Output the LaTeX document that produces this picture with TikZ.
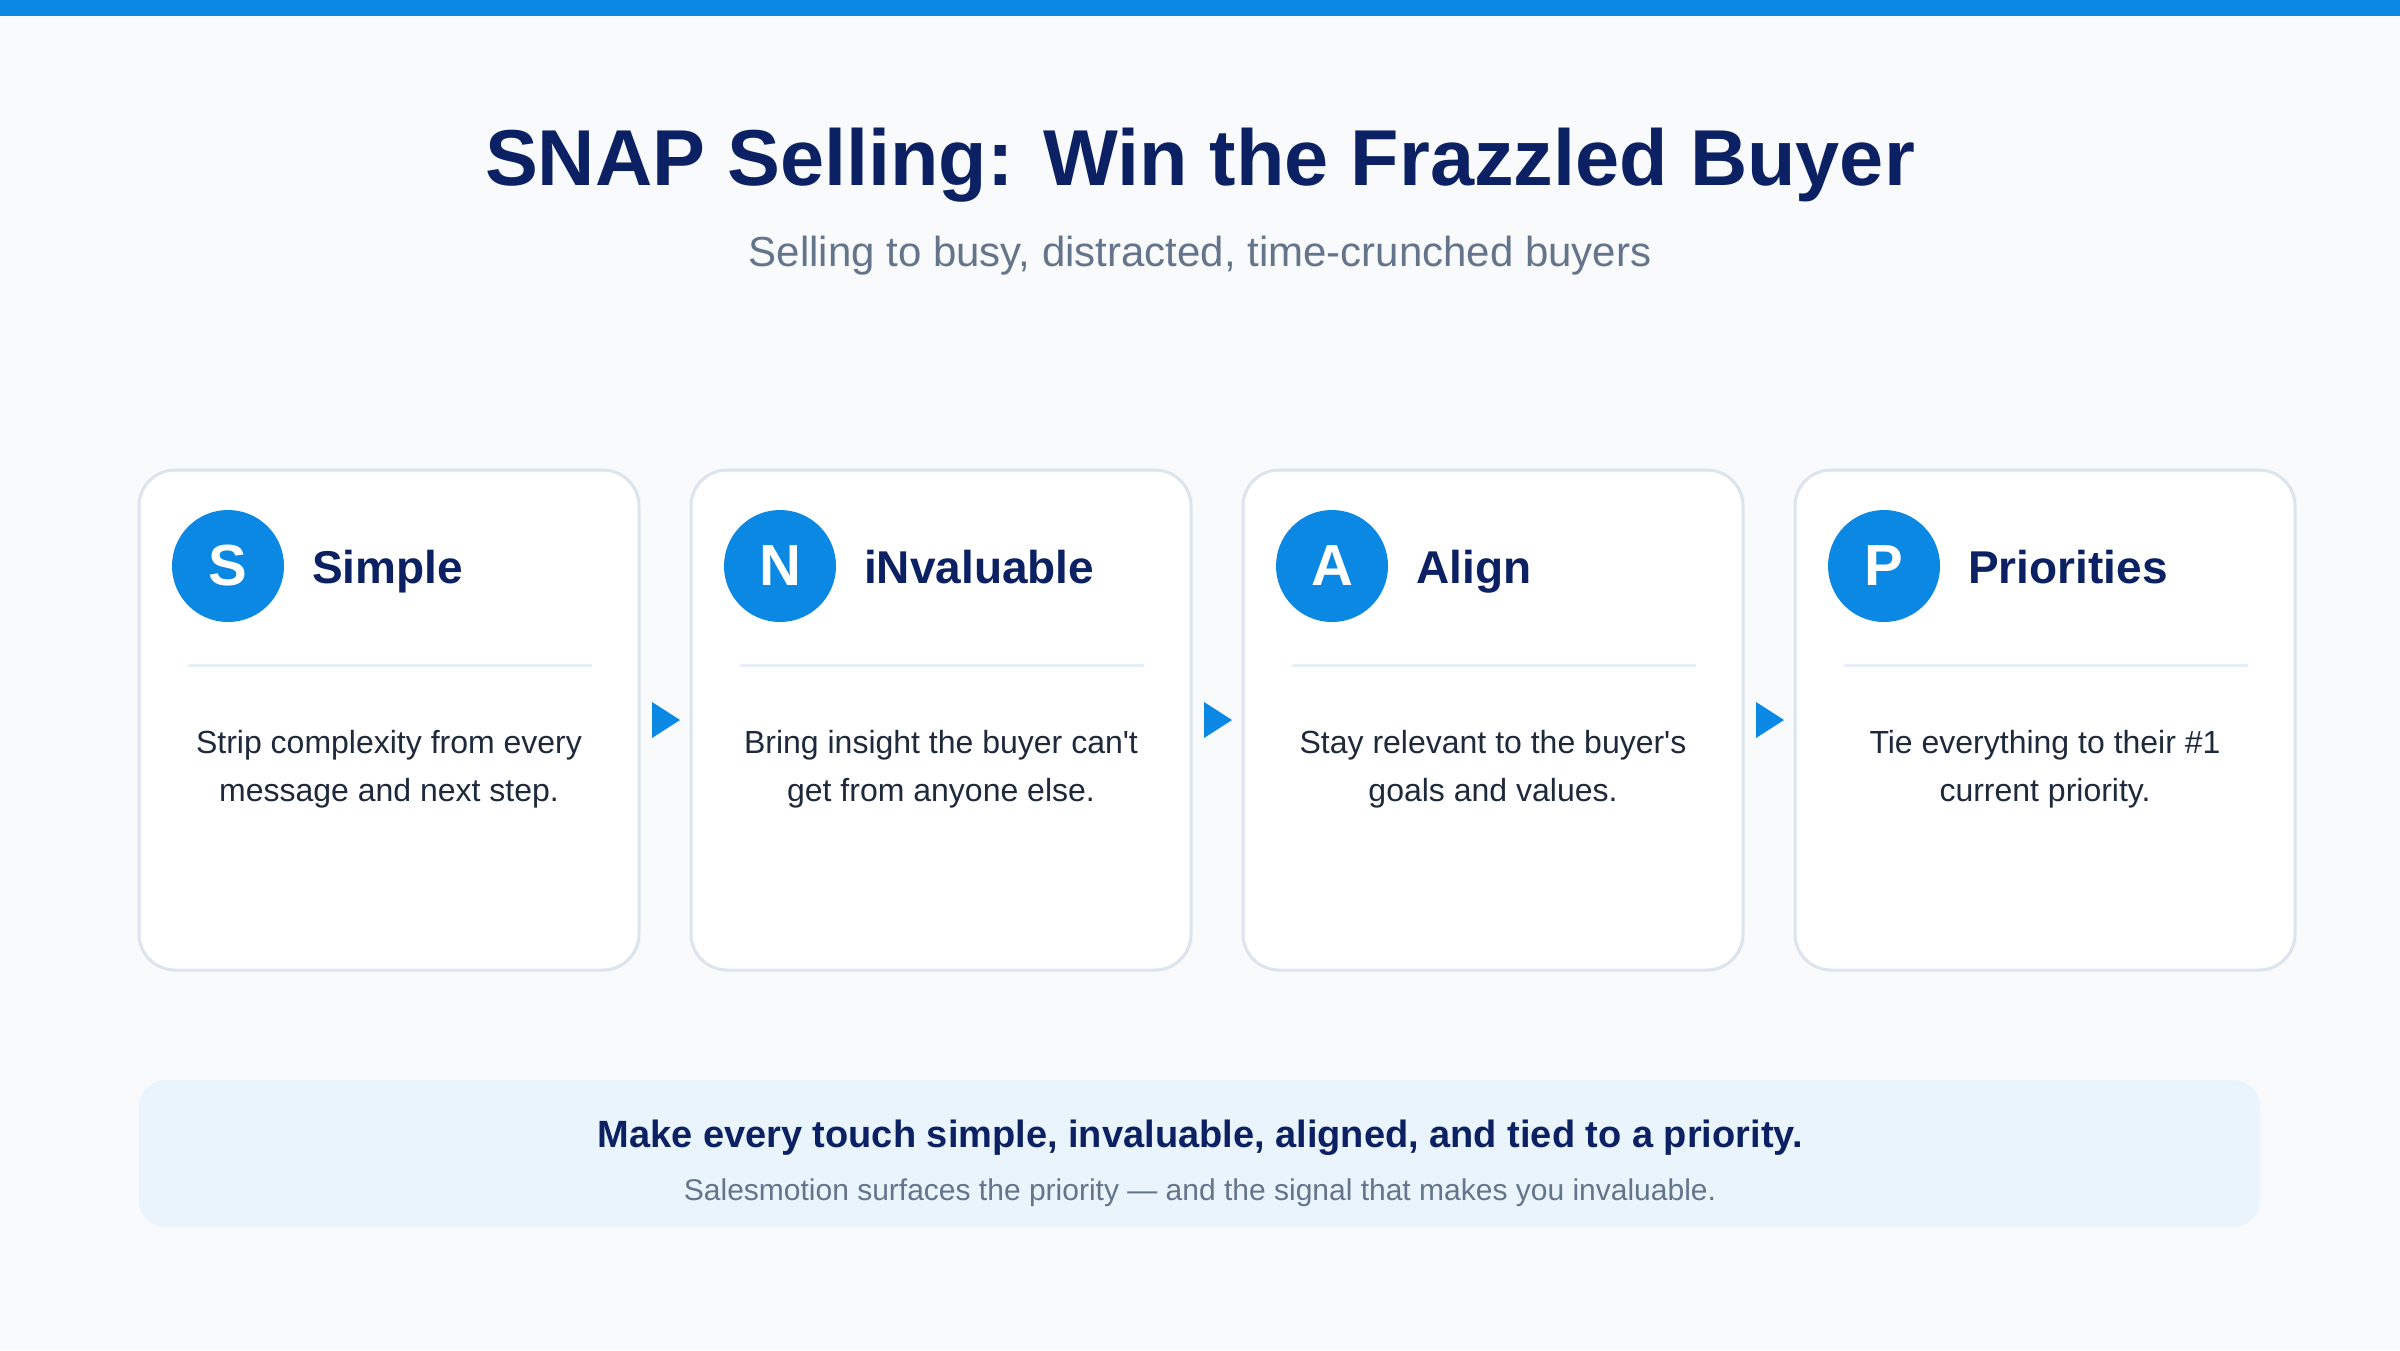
\documentclass[tikz,border=0pt]{standalone}
\usepackage{fontspec}
\setmainfont{Liberation Sans}[Ligatures=TeXOff]
\definecolor{bg}{HTML}{F8FAFC}
\definecolor{brand}{HTML}{0A88E3}
\definecolor{navy}{HTML}{0B2163}
\definecolor{subgray}{HTML}{64748B}
\definecolor{bodytext}{HTML}{1E293B}
\definecolor{cardline}{HTML}{DCE4EE}
\definecolor{divline}{HTML}{E6EEF7}
\definecolor{notefill}{HTML}{EAF4FD}
\newcommand{\fs}[1]{\fontsize{#1}{#1}\selectfont}
\tikzset{
  cardbox/.style={draw=cardline, line width=3pt, fill=white, rounded corners=36pt,
    minimum width=500pt, minimum height=500pt, inner sep=0pt},
  badge/.style={circle, fill=brand, minimum size=112pt, inner sep=0pt,
    text=white, font=\fs{58}\bfseries},
  cardtitle/.style={anchor=base west, inner sep=0pt, text=navy, font=\fs{46}\bfseries},
  bodyline/.style={anchor=base, inner sep=0pt, text=bodytext, font=\fs{32}},
  divider/.style={draw=divline, line width=3pt},
  flowtip/.style={fill=brand},
}
\begin{document}
\begin{tikzpicture}[x=1pt,y=-1pt]
\fill[bg] (0,0) rectangle (2400,1350);
\useasboundingbox (0,0) rectangle (2400,1350);
\fill[brand] (0,0) rectangle (2400,16);
\node[anchor=base, inner sep=0pt, text=navy, font=\fs{79.3}\bfseries] (title) at (1200,185) {SNAP Selling: Win the Frazzled Buyer};
\node[anchor=base, inner sep=0pt, text=subgray, font=\fs{42}] (subtitle) at (1200,266) {Selling to busy, distracted, time-crunched buyers};
\foreach \i/\L/\T/\la/\lb in {
  0/S/Simple/{Strip complexity from every}/{message and next step.},
  1/N/iNvaluable/{Bring insight the buyer can't}/{get from anyone else.},
  2/A/Align/{Stay relevant to the buyer's}/{goals and values.},
  3/P/Priorities/{Tie everything to their \#1}/{current priority.}} {
  \pgfmathsetmacro{\x}{139+552*\i}
  \node[cardbox] (card\i) at (\x+250,720) {};
  \node[badge] (badge\i) at (\x+89,566) {\L};
  \node[cardtitle] (head\i) at (\x+173,583) {\T};
  \draw[divider] (\x+49,665) -- (\x+453,665);
  \node[bodyline] (bodya\i) at (\x+250,753) {\la};
  \node[bodyline] (bodyb\i) at (\x+250,801) {\lb};
}
\foreach \i in {0,1,2} {
  \pgfmathsetmacro{\x}{139+552*\i}
  \fill[flowtip] (\x+513,702) -- (\x+541,720) -- (\x+513,738) -- cycle;
}
\node[fill=notefill, rounded corners=27pt, minimum width=2121pt, minimum height=147pt, inner sep=0pt] (note) at (1199.5,1153.5) {};
\node[anchor=base, inner sep=0pt, text=navy, font=\fs{38}\bfseries] (notemain) at (1200,1147) {Make every touch simple, invaluable, aligned, and tied to a priority.};
\node[anchor=base, inner sep=0pt, text=subgray, font=\fs{30}] (notesub) at (1200,1200) {Salesmotion surfaces the priority — and the signal that makes you invaluable.};
\end{tikzpicture}
\end{document}
